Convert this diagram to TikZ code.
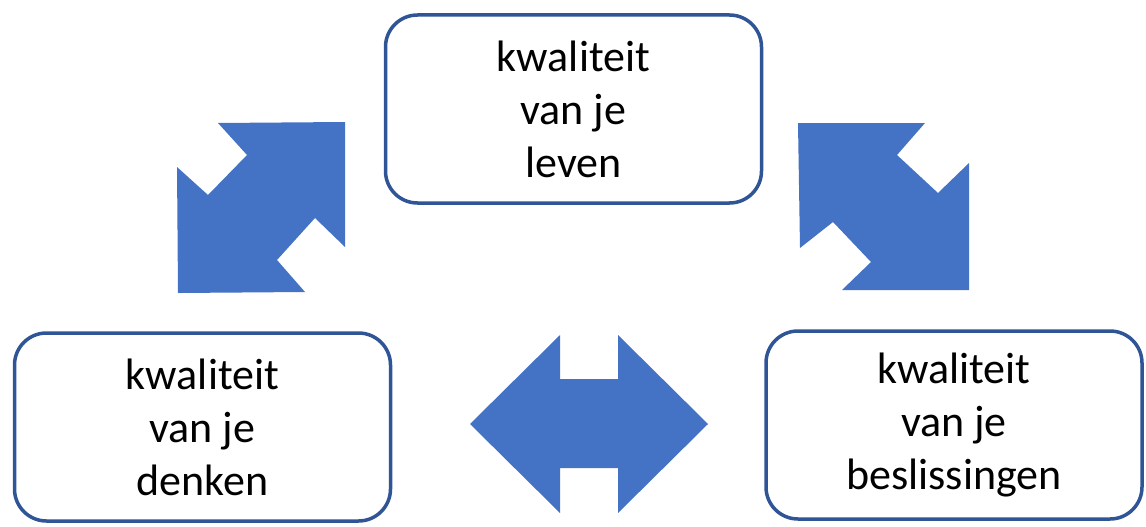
\documentclass[tikz,border=0pt]{standalone}
\usepackage{fontspec}
\setmainfont{Carlito}
\definecolor{arrowblue}{HTML}{4472C4}
\definecolor{boxblue}{HTML}{2F5597}
\begin{document}
\begin{tikzpicture}[x=1pt,y=-1pt,
  box/.style={draw=boxblue,line width=3.5pt,rounded corners=32pt,fill=white,
    minimum width=376pt,minimum height=188pt,align=center,inner sep=0pt,
    font=\fontsize{44}{53}\selectfont},
  blockarrow/.style={fill=arrowblue,draw=none}]
\useasboundingbox (0,0) rectangle (1146,527);
\node[box] (top) at (573.5,109) {kwaliteit\\van je\\leven};
\node[box] (left) at (202.5,427) {kwaliteit\\van je\\denken};
\node[box] (right) at (954,425) {kwaliteit\\van je\\beslissingen};
% left diagonal double arrow
\fill[blockarrow] (218,123) -- (345,122) -- (345,247) -- (315,218) -- (277,260)
  -- (305,292) -- (178,293) -- (177,167) -- (208,195) -- (247,155) -- cycle;
% right diagonal double arrow
\fill[blockarrow] (798,123) -- (925,123) -- (897,155) -- (938,193) -- (969,163)
  -- (969,290) -- (842,290) -- (871,262) -- (833,222) -- (800,248) -- cycle;
% horizontal double arrow
\fill[blockarrow] (470,424) -- (560,335) -- (560,379) -- (618,379) -- (618,335)
  -- (708,424) -- (618,513) -- (618,468) -- (560,468) -- (560,513) -- cycle;
\end{tikzpicture}
\end{document}
